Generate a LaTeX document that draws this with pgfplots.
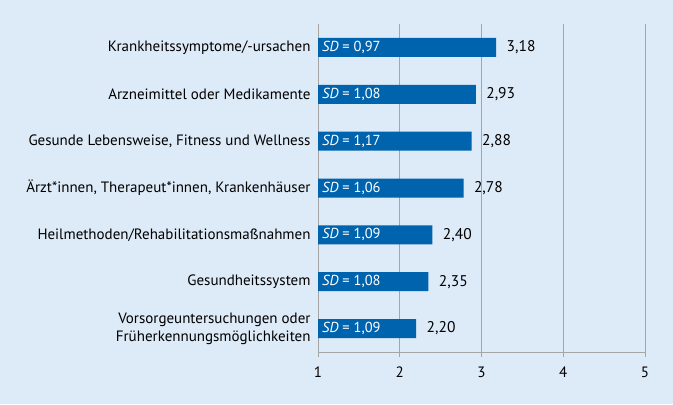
\documentclass[border=0pt]{standalone}
\usepackage{pgfplots}
\pgfplotsset{compat=1.18}
\usepackage{fontspec}
\setmainfont{PT Sans}
\definecolor{bg}{HTML}{DDEAF7}
\definecolor{barc}{HTML}{0063AE}
\definecolor{gridc}{HTML}{A5A5A5}
\begin{document}
\begin{tikzpicture}[x=1bp,y=1bp]
\fill[bg] (0,0) rectangle (673,404);
\begin{axis}[at={(318bp,52bp)}, anchor=south west, scale only axis,
  width=327bp, height=328bp,
  xmin=1, xmax=5, ymin=-0.5, ymax=6.5, y dir=reverse,
  axis x line*=bottom, axis y line*=left,
  axis line style={gridc, line width=0.8pt},
  xtick={1,2,3,4,5}, xticklabels={1,2,3,4,5},
  xmajorgrids, major grid style={gridc, line width=0.8pt},
  tick align=outside, major tick length=5bp,
  xtick style={gridc, line width=0.8pt},
  ytick={0,...,6},
  yticklabels={Krankheitssymptome/-ursachen, Arzneimittel oder Medikamente, {Gesunde Lebensweise, Fitness und Wellness}, {Ärzt*innen, Therapeut*innen, Krankenhäuser}, Heilmethoden/Rehabilitationsmaßnahmen, Gesundheitssystem, {Vorsorgeuntersuchungen oder\\Früherkennungsmöglichkeiten}},
  ytick style={draw=none},
  extra y ticks={-0.5,0.5,1.5,2.5,3.5,4.5,5.5,6.5},
  extra y tick labels={},
  extra y tick style={tick style={draw=gridc, line width=0.8pt}},
  tick label style={font=\fontsize{15bp}{18bp}\selectfont, text=black},
  yticklabel style={align=right, xshift=1bp},
  xticklabel style={yshift=-6bp},
]
\addplot[xbar, bar width=19bp, fill=barc, draw=none,
  point meta=explicit symbolic, nodes near coords,
  nodes near coords align={horizontal},
  every node near coord/.append style={anchor=west, xshift=7bp, text=black, font=\fontsize{15.5bp}{18bp}\selectfont}]
  coordinates {(3.18,0) [3,18] (2.93,1) [2,93] (2.88,2) [2,88] (2.78,3) [2,78] (2.40,4) [2,40] (2.35,5) [2,35] (2.20,6) [2,20]};
\addplot[draw=none, mark=none, forget plot,
  point meta=explicit symbolic, nodes near coords,
  every node near coord/.style={anchor=west, inner sep=4bp, text=white, font=\fontsize{14.5bp}{17bp}\selectfont}]
  coordinates {(1,0) [{\textit{SD} = 0,97}] (1,1) [{\textit{SD} = 1,08}] (1,2) [{\textit{SD} = 1,17}] (1,3) [{\textit{SD} = 1,06}] (1,4) [{\textit{SD} = 1,09}] (1,5) [{\textit{SD} = 1,08}] (1,6) [{\textit{SD} = 1,09}]};
\end{axis}
\end{tikzpicture}
\end{document}
